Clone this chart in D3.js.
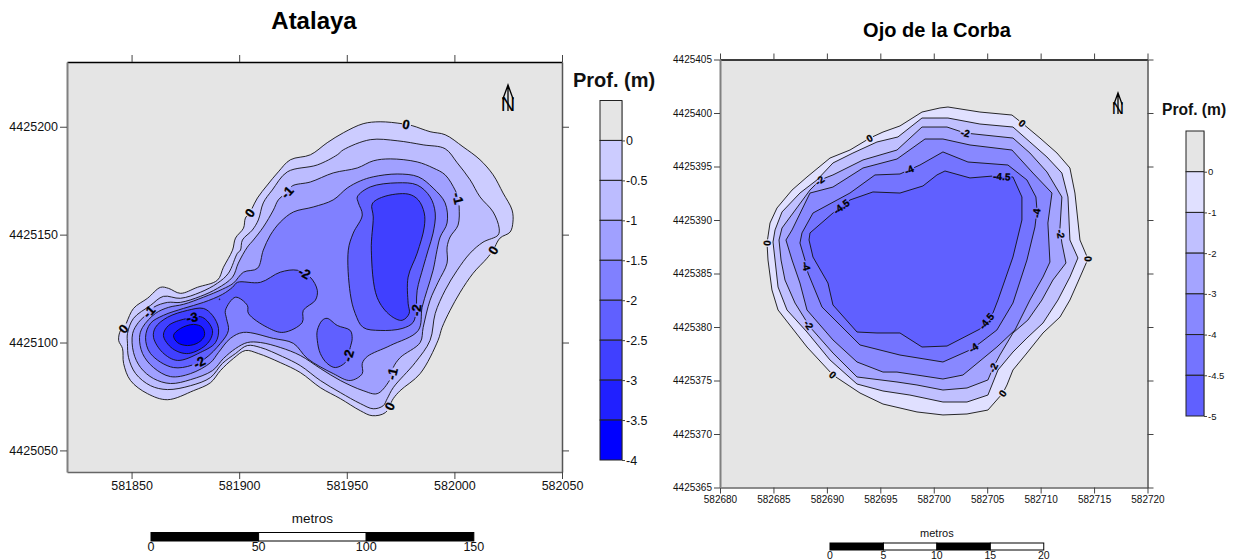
<!DOCTYPE html>
<html>
<head>
<meta charset="utf-8">
<title>Atalaya / Ojo de la Corba</title>
<script src="https://cdnjs.cloudflare.com/ajax/libs/d3/7.8.5/d3.min.js"></script>
<style>
	html, body { margin: 0; padding: 0; background: #fff; }
	svg { display: block; font-family: "Liberation Sans", Arial, sans-serif; }
</style>
</head>
<body>
<svg id="chart" width="1241" height="560"></svg>
<script>
'use strict';

// Atalaya: rings are [east, north] in metres from the two origins below
var ATALAYA_EAST0 = 581800;
var ATALAYA_NORTH0 = 4425000;
var aAtalayaXTicks = [581850, 581900, 581950, 582000, 582050];
var aAtalayaYTicks = [4425050, 4425100, 4425150, 4425200];
var aAtalayaLevels = [0, -0.5, -1, -1.5, -2, -2.5, -3, -3.5, -4];
var aAtalayaBands = ['#ccccff', '#bcbcff', '#a0a0ff', '#8080ff', '#6060ff', '#4040ff', '#2020ff', '#0000ff'];
var aAtalayaScaleTicks = [0, 50, 100, 150];

var aAtalaya0 = [[50.9,115.8],[57.4,120.5],[63.5,125.6],[67.2,125.1],[72.7,122.8],[80.6,125.6],[89.9,128.9],[92.7,134.9],[96.9,142.8],[98.3,148.4],[102,153],[102.9,157.7],[104.8,160],[108.5,167],[113.1,173],[118.2,179.1],[123.8,184.7],[133.1,187],[140.9,192.6],[148.4,197.2],[157.6,201.4],[165.5,202.3],[175.7,201.4],[180.4,200.5],[188.7,197.7],[195.7,196.3],[204,190.7],[211.9,184.7],[218,177.7],[222.6,169.3],[226.8,161.4],[227.2,155.8],[225.9,151.2],[221.2,148.4],[218,142.8],[215.2,139.1],[208.7,132.1],[202.7,123.3],[198,114.9],[194.3,107],[192.4,101],[184.1,85.6],[174.8,77.7],[171.6,74],[167.9,67.5],[161.8,66.1],[156.3,68.4],[147,74],[137.7,79.1],[128.4,86.1],[119.1,90.7],[108.9,94.9],[102.9,96.3],[97.3,92.6],[91.3,87],[86.7,81.4],[78.8,77.7],[66.7,73.5],[57.4,76.3],[49.5,82.4],[46.3,90.3],[45.8,97.2],[44,101],[44.9,105.6],[46.3,106.5]];
var aAtalayaM05 = [[48.1,104.2],[50.9,111.2],[58.8,117.2],[64.8,121.4],[72.7,120.5],[82,123.3],[89.9,127.5],[95,132.1],[99.2,141.4],[100.6,142.8],[101.5,147.5],[106.1,152.1],[108.9,156.8],[111.2,164.7],[115.4,170.7],[122.4,179.1],[136.3,182.3],[145.6,187],[148.4,189.3],[160.9,194],[173.4,193.5],[185.5,191.6],[195.7,189.8],[201.3,183.3],[207.3,175.4],[211.9,167.5],[218,160.5],[220.8,153],[220.3,149.8],[213.3,146.5],[207.3,141.4],[201.3,133.5],[195.7,124.2],[191.1,113.5],[188.7,101],[181.8,90.7],[171.6,79.1],[168.8,74],[166.9,70.7],[162.3,69.3],[156.3,71.7],[147,76.8],[137.7,82.4],[128.4,89.3],[120.1,93.5],[109.9,97.7],[103.8,98.6],[98.3,94.9],[92.2,90.3],[86.7,83.8],[77.4,80],[66.7,78.2],[58.8,80],[51.9,85.6],[48.6,93],[48.1,99.6]];
var aAtalayaM1 = [[50.5,104.2],[53.2,109.3],[56.5,112.6],[60.2,116.3],[66.7,118.6],[72.7,118.6],[82,121.4],[89.9,125.1],[96.9,130.3],[99.6,136.8],[103.8,144.2],[106.6,147.5],[111.2,153.5],[115.9,161.4],[118.2,166.1],[122.4,169.8],[124.7,172.6],[133.1,174.4],[143.7,178.6],[154.9,180.9],[162.3,184.2],[170.2,185.1],[182.7,183.7],[190.1,180.9],[195.7,177.7],[200.3,170.7],[201.7,167],[202.2,162.8],[201.7,154.4],[198,148.9],[196.6,144.2],[196.6,136.8],[192.4,127.9],[188.7,119.6],[185.5,107],[184.1,100],[174.8,93],[171.6,88.4],[171.1,85.6],[169.2,81.4],[164.1,76.3],[157.6,77.7],[147,82.4],[137.7,88],[128.4,94],[119.1,97.7],[109.9,100],[103.8,100],[98.3,97.2],[92.7,92.6],[87.6,87],[77.4,82.8],[68.1,81],[60.2,83.3],[54.2,88.4],[50.9,95.4]];
var aAtalayaM15 = [[53.7,102.4],[55.1,107],[61.1,113.5],[67.2,116.3],[74.1,117.7],[83.4,121],[92.2,124.7],[97.3,127.5],[102,132.6],[108.5,134.4],[111.2,142.8],[114.5,149.8],[119.1,155.8],[125.2,160.5],[134.4,162.8],[143.7,166.1],[150.2,171.6],[156.3,174.9],[162.3,176.8],[173.4,178.1],[183.2,176.8],[190.1,171.6],[195.7,164.7],[196.6,155.4],[193.4,148.9],[192,143.2],[190.1,133.5],[187.3,124.2],[185,116.3],[183.2,105.6],[170.2,98.6],[159.5,93.5],[157.2,90.3],[157.2,85.6],[151.6,82.4],[143.7,85.6],[131.7,92.6],[125.2,99.6],[115.9,101.9],[102,104.7],[95.9,101.9],[90.4,95.4],[86.7,90.7],[77.4,85.6],[68.1,84.2],[60.2,88.4],[55.1,94.9]];
var aAtalayaM2West = [[56.5,102.4],[58.8,108.9],[64.8,112.6],[74.1,115.8],[83.4,118.6],[92.2,122.3],[96.9,125.6],[99.2,127.9],[109.9,127.9],[119.1,132.6],[127,133.5],[133,130.3],[136.3,124.2],[135.4,119.6],[129.8,114.9],[129.3,109.3],[120.5,104.7],[113.1,107],[104.3,113.5],[103.8,117.2],[98.3,121],[93.6,114.9],[94.1,111.2],[95,105.6],[91.3,99.6],[82,91.2],[69.5,88.4],[58.8,94.9]];
var aAtalayaM2South = [[136.3,105.6],[138.6,110.3],[140.9,111.2],[145.6,107.9],[151.6,105.6],[152.5,101.9],[151.6,97.7],[150.7,94],[149.3,90.7],[144.7,88.4],[140.9,90.3],[137.7,94.9],[136.3,101]];
var aAtalayaM2East = [[154.9,167.5],[160.9,172.1],[173.4,174],[182.7,173],[188.7,167.5],[191.1,160],[190.1,150.7],[187.8,142.8],[185.5,134.9],[182.7,124.2],[182.2,114.9],[180.8,109.3],[175.7,106.5],[165.5,105.6],[157.6,107],[153.9,113.5],[151.6,122.8],[150.7,142.8],[153,150.7],[157.2,159.1],[155.4,164.7]];
var aAtalayaM2Dot = [[90.6,120],[91,120.2],[90.9,119.8]];
var aAtalayaM25West = [[60.2,102.4],[61.1,107],[66.7,111.7],[76,114.9],[83.4,115.8],[87.6,112.6],[90.4,106.5],[89,100],[82,95.4],[71.3,91.7],[64.4,95.4]];
var aAtalayaM25East = [[161.8,164.2],[166.9,167.5],[178.5,168.8],[183.2,166.1],[186,160],[186,153.5],[182.7,141.4],[178.5,130.3],[178.5,118.2],[179,113.5],[175.7,110.3],[170.2,112.6],[164.1,120.9],[161.4,142.8],[162.3,158.2]];
var aAtalayaM3 = [[64.8,103.3],[67.2,107.9],[76,111.2],[82.9,111.7],[87.6,105.6],[85.3,99.6],[76.4,94.9],[69,97.2]];
var aAtalayaM35 = [[69.5,103.3],[72.7,106.5],[78.8,108.4],[82.9,107],[83.9,103.3],[81.1,100],[76,98.6],[71.3,100]];

// [level, east, north]
var aAtalayaLabels = [[0,46.3,106.5],[0,104.8,160],[0,177.6,200.9],[0,218,142.8],[0,169.7,70.7],[-1,58.4,114],[-1,122.4,169.8],[-1,201.7,167],[-1,171.1,85.6],[-2,81.6,90.7],[-2,129.8,131.6],[-2,150.2,94],[-2,182.2,114.9],[-3,78.3,111.2]];

// Ojo de la Corba
var CORBA_EAST0 = 582680;
var CORBA_NORTH0 = 4425365;
var aCorbaXTicks = [582680, 582685, 582690, 582695, 582700, 582705, 582710, 582715, 582720];
var aCorbaYTicks = [4425365, 4425370, 4425375, 4425380, 4425385, 4425390, 4425395, 4425400, 4425405];
var aCorbaLevels = [0, -1, -2, -3, -4, -4.5, -5];
var aCorbaBands = ['#e0e0ff', '#c0c0ff', '#a4a4ff', '#8888ff', '#7474ff', '#6060ff'];
var aCorbaScaleTicks = [0, 5, 10, 15, 20];

var aCorba0 = [[4.68,24.72],[5.33,26.12],[6.74,27.8],[8.14,29.02],[10.29,30.79],[12.16,31.54],[14.03,32.66],[15.25,33.22],[16.84,33.79],[18.9,35.09],[20.58,35.47],[21.33,35.56],[24.32,35.09],[27.32,34.81],[28.25,34.07],[29.94,32.66],[31.53,31.26],[32.74,29.86],[33.21,27.52],[33.68,23.13],[34.43,21.36],[33.49,19.21],[32.74,17.52],[31.81,15.93],[30.22,14.44],[28.72,12.57],[27.41,10.98],[26.85,9.58],[26.47,8.83],[25.07,7.24],[23.11,6.87],[20.86,6.78],[18.43,7.06],[15.25,7.8],[13.1,8.83],[10.57,10.51],[8.14,13.13],[5.43,16.59],[4.86,18.46],[4.49,21.26],[4.4,22.85]];
var aCorbaM1 = [[4.96,22.94],[5.15,24.07],[5.8,25.75],[7.48,27.52],[9.07,28.74],[10.57,30.33],[12.44,31.26],[14.69,32.29],[16.65,32.76],[18.9,34.53],[21.33,34.53],[24.32,33.97],[27.41,33.69],[29,32.29],[30.59,30.89],[31.99,29.39],[32.56,27.15],[32.74,23.13],[33.49,21.45],[32.74,19.67],[31.62,17.52],[30.22,15.37],[28.72,13.97],[27.41,12.66],[26.01,10.98],[25.07,8.64],[23.11,7.99],[20.86,7.99],[17.77,8.64],[15.25,9.02],[12.82,9.67],[10.29,11.92],[8.14,14.53],[6.27,16.59],[5.43,18.74],[5.15,21.26]];
var aCorbaM2 = [[5.52,23.13],[5.8,24.25],[8.42,27.8],[9.36,28.74],[10.57,29.21],[13.38,30.61],[16.56,31.54],[18.9,33.69],[21.24,33.69],[22.92,33.13],[27.41,32.66],[29,31.26],[30.59,29.49],[31.99,27.15],[31.81,24.25],[31.99,22.85],[32.37,20.98],[31.15,19.39],[30.12,17.52],[28.81,15.65],[27.41,14.44],[26.19,12.38],[25.54,11.17],[25.07,10.05],[23.11,9.3],[20.86,9.11],[18.43,9.58],[16.56,9.86],[12.82,10.33],[10.57,12.57],[8.42,15],[7.02,17.24],[6.08,19.39],[5.71,21.26]];
var aCorbaM3 = [[6.17,23.13],[6.74,24.07],[8.42,27.52],[10.57,28.08],[13.38,29.86],[16.56,30.7],[19.18,32.57],[20.86,32.57],[23.39,32.01],[27.32,31.54],[29.28,29.39],[31.06,27.52],[30.68,24.72],[30.87,21.07],[30.22,19.67],[29,17.52],[27.6,14.72],[25.91,13.13],[22.73,10.51],[20.86,10.14],[18.43,10.51],[16.56,10.79],[15.25,10.79],[12.82,11.73],[10.57,13.79],[8.14,16.59],[7.48,19.11],[6.74,21.26]];
var aCorbaM4 = [[7.48,22.85],[7.67,23.79],[8.7,25.65],[12.16,27.52],[14.5,29.21],[16.84,29.3],[18.71,30.14],[20.86,31.36],[23.2,30.42],[26.94,30.14],[28.72,28.74],[29.56,27.15],[29.66,25.93],[29.47,24.35],[28.72,21.26],[27.41,17.24],[25.91,14.72],[24.32,13.5],[23.39,12.85],[20.86,11.73],[16.84,12.38],[13.1,13.32],[9.54,16.87],[8.23,20.05],[7.95,21.26]];
var aCorbaM45 = [[8.33,23.13],[8.42,23.79],[10.57,25.65],[12.16,26.87],[14.31,27.62],[16.84,27.52],[18.99,28.18],[20.3,29.21],[21.05,29.58],[23.39,28.93],[25.54,29.11],[27.41,29.02],[28.25,27.15],[28.25,25],[27.41,21.54],[26.01,17.52],[25.54,16.31],[24.32,14.81],[21.24,13.22],[18.9,13.13],[16.84,14.44],[14.69,14.44],[12.82,14.53],[10.57,17.06],[10.1,19.11],[8.7,21.54]];

var aCorbaLabels = [[0,14.03,32.66],[0,4.4,22.85],[0,28.25,34.07],[0,34.43,21.36],[0,26.47,8.83],[0,10.57,10.51],[-2,9.36,28.65],[-2,22.92,33.13],[-2,31.81,23.69],[-2,25.54,11.17],[-2,8.42,15.28],[-4,17.68,29.77],[-4,29.56,25.65],[-4,23.67,13.04],[-4,8.14,20.7],[-4.5,11.41,26.22],[-4.5,26.38,29.02],[-4.5,24.98,15.47]];

function D3_ContourMap(sSvg, aProps)
{
	var rFrame = aProps['frame'];
	var aXDomain = aProps['xdomain'];
	var aYDomain = aProps['ydomain'];
	var nEast0 = aProps['east0'];
	var nNorth0 = aProps['north0'];

	var scaleX = d3.scaleLinear().domain(aXDomain).range([rFrame.left, rFrame.right]);
	var scaleY = d3.scaleLinear().domain(aYDomain).range([rFrame.bottom, rFrame.top]);

	sSvg.append('rect')
		.attr('x', rFrame.left)
		.attr('y', rFrame.top)
		.attr('width', rFrame.right - rFrame.left)
		.attr('height', rFrame.bottom - rFrame.top)
		.attr('fill', '#e5e5e5');

	var fnLine = d3.line()
		.x(function(p) { return scaleX(nEast0 + p[0]); })
		.y(function(p) { return scaleY(nNorth0 + p[1]); })
		.curve(aProps['curve']);

	var fnBand = d3.scaleOrdinal().domain(aProps['levels']).range(aProps['bands']);

	// fills first, outer to inner; the outlines go on top so they can get gaps for the labels
	var sRings = sSvg.append('g');
	sRings.selectAll('path')
		.data(aProps['rings'])
		.enter()
			.append('path')
			.attr('d', function(r) { return fnLine(r.points); })
			.attr('fill', function(r) { return fnBand(r.level); })
			.attr('stroke', 'none');

	var sOutlines = sSvg.append('g').selectAll('path')
		.data(aProps['rings'])
		.enter()
			.append('path')
			.attr('d', function(r) { return fnLine(r.points); })
			.attr('fill', 'none')
			.attr('stroke', '#111')
			.attr('stroke-width', aProps['linewidth']);

	var aOutlineInfo = [];
	sOutlines.each(function(r)
	{
		var aSamples = [];
		var nTotal = this.getTotalLength();
		for (var nLen = 0; nLen <= nTotal; nLen += 1)
		{
			var pt = this.getPointAtLength(nLen);
			aSamples.push({len: nLen, x: pt.x, y: pt.y});
		}
		aOutlineInfo.push({node: this, level: r.level, total: nTotal, samples: aSamples, gaps: []});
	});

	var sLabels = sSvg.append('g');
	aProps['labels'].forEach(function(label)
	{
		var nLx = scaleX(nEast0 + label[1]);
		var nLy = scaleY(nNorth0 + label[2]);
		var oBest = null;
		var nBest = Infinity;
		aOutlineInfo.forEach(function(info)
		{
			if (info.level != label[0]) { return; }
			info.samples.forEach(function(s)
			{
				var d2 = (s.x-nLx)*(s.x-nLx) + (s.y-nLy)*(s.y-nLy);
				if (d2 < nBest) { nBest = d2; oBest = {info: info, sample: s}; }
			});
		});
		if (oBest == null)
		{
			console.error('no ring for label level '+label[0]);
			return;
		}

		var info = oBest.info;
		var nAt = oBest.sample.len;
		var p0 = info.node.getPointAtLength(Math.max(0, nAt-5));
		var p1 = info.node.getPointAtLength(Math.min(info.total, nAt+5));
		var nAngle = Math.atan2(p1.y-p0.y, p1.x-p0.x)*180/Math.PI;
		if (nAngle > 90) { nAngle -= 180; }
		if (nAngle < -90) { nAngle += 180; }

		var sText = sLabels.append('text')
			.attr('transform', 'translate(' + oBest.sample.x + ',' + oBest.sample.y + ') rotate(' + nAngle + ')')
			.attr('text-anchor', 'middle')
			.attr('dy', '.36em')
			.attr('font-size', aProps['labelsize'])
			.attr('font-weight', 'bold')
			.attr('fill', '#000')
			.attr('stroke', '#000')
			.attr('stroke-width', 0.3)
			.text(String(label[0]));

		var nHalf = sText.node().getComputedTextLength()/2 + 1;
		info.gaps.push([Math.max(0, nAt-nHalf), Math.min(info.total, nAt+nHalf)]);
	});

	aOutlineInfo.forEach(function(info)
	{
		if (info.gaps.length == 0) { return; }
		info.gaps.sort(function(a, b) { return a[0]-b[0]; });
		var aDash = [];
		var nPos = 0;
		info.gaps.forEach(function(g)
		{
			aDash.push(g[0]-nPos, g[1]-g[0]);
			nPos = g[1];
		});
		aDash.push(info.total-nPos, 0);
		d3.select(info.node).attr('stroke-dasharray', aDash.join(' '));
	});

	// frame with ticks pointing outward on all four sides
	var fnFormat = d3.format('d');
	var nTick = aProps['ticksize'];
	var nFont = aProps['ticksizefont'];

	function StyleAxis(sAxis, strColor, nWidth)
	{
		sAxis.attr('font-family', null).attr('font-size', nFont);
		sAxis.select('.domain').attr('stroke', strColor).attr('stroke-width', nWidth);
		sAxis.selectAll('.tick line').attr('stroke', '#444').attr('stroke-width', 1);
		sAxis.selectAll('.tick text').attr('fill', '#111');
	}

	var sTop = sSvg.append('g')
		.attr('transform', 'translate(0,' + rFrame.top + ')')
		.call(d3.axisTop(scaleX).tickValues(aProps['xticks']).tickSize(nTick).tickSizeOuter(0).tickFormat(''));
	StyleAxis(sTop, '#000', 1.5);

	var sRight = sSvg.append('g')
		.attr('transform', 'translate(' + rFrame.right + ',0)')
		.call(d3.axisRight(scaleY).tickValues(aProps['yticks']).tickSize(nTick).tickSizeOuter(0).tickFormat(''));
	StyleAxis(sRight, '#555', 1.5);

	var sBottom = sSvg.append('g')
		.attr('transform', 'translate(0,' + rFrame.bottom + ')')
		.call(d3.axisBottom(scaleX).tickValues(aProps['xticks']).tickSize(nTick).tickSizeOuter(0).tickPadding(aProps['xpadding']).tickFormat(fnFormat));
	StyleAxis(sBottom, '#666', 1.5);

	var sLeft = sSvg.append('g')
		.attr('transform', 'translate(' + rFrame.left + ',0)')
		.call(d3.axisLeft(scaleY).tickValues(aProps['yticks']).tickSize(nTick).tickSizeOuter(0).tickPadding(2).tickFormat(fnFormat));
	StyleAxis(sLeft, '#808080', 2);

	// title
	sSvg.append('text')
		.attr('x', aProps['titlex'])
		.attr('y', aProps['titley'])
		.attr('text-anchor', 'middle')
		.attr('font-size', aProps['titlesize'])
		.attr('font-weight', 'bold')
		.text(aProps['title']);

	// north arrow
	var rNorth = aProps['north'];
	var sNorth = sSvg.append('g').attr('transform', 'translate(' + rNorth.x + ',' + rNorth.y + ')');
	sNorth.append('path')
		.attr('d', 'M0,' + rNorth.size + 'V0M' + (-rNorth.size*0.2) + ',' + (rNorth.size*0.55) + 'L0,0L' + (rNorth.size*0.2) + ',' + (rNorth.size*0.55))
		.attr('fill', 'none')
		.attr('stroke', '#000')
		.attr('stroke-width', 1.3);
	sNorth.append('text')
		.attr('x', 0)
		.attr('y', rNorth.size)
		.attr('text-anchor', 'middle')
		.attr('font-size', rNorth.font)
		.text('N');

	// scale bar, uses the map's own metres per pixel
	var rBar = aProps['bar'];
	var aBarTicks = aProps['barticks'];
	var scaleBar = d3.scaleLinear()
		.domain([0, aBarTicks[aBarTicks.length-1]])
		.range([rBar.x, rBar.x + scaleX(aXDomain[0] + aBarTicks[aBarTicks.length-1]) - scaleX(aXDomain[0])]);

	sSvg.append('g').selectAll('rect')
		.data(d3.pairs(aBarTicks))
		.enter()
			.append('rect')
			.attr('x', function(p) { return scaleBar(p[0]); })
			.attr('y', rBar.y)
			.attr('width', function(p) { return scaleBar(p[1]) - scaleBar(p[0]); })
			.attr('height', rBar.height)
			.attr('fill', function(p, i) { return i%2 == 0 ? '#000' : '#fff'; })
			.attr('stroke', '#000')
			.attr('stroke-width', 1);

	sSvg.append('g').selectAll('text')
		.data(aBarTicks)
		.enter()
			.append('text')
			.attr('x', function(d) { return scaleBar(d); })
			.attr('y', rBar.labely)
			.attr('text-anchor', 'middle')
			.attr('font-size', rBar.font)
			.attr('fill', '#111')
			.text(function(d) { return d; });

	sSvg.append('text')
		.attr('x', (scaleBar.range()[0] + scaleBar.range()[1])/2)
		.attr('y', rBar.titley)
		.attr('text-anchor', 'middle')
		.attr('font-size', rBar.titlefont)
		.attr('fill', '#111')
		.text('metros');

	// legend: equal steps whatever the level, so a point scale, with the grey cell above 0
	var rLegend = aProps['legend'];
	var aLevels = aProps['levels'];
	var aSlots = ['above'].concat(aLevels);
	var scaleSlot = d3.scalePoint().domain(aSlots).range([rLegend.top, rLegend.bottom]);
	var aCellColors = ['#e5e5e5'].concat(aProps['bands']);

	sSvg.append('g').selectAll('rect')
		.data(d3.pairs(aSlots))
		.enter()
			.append('rect')
			.attr('x', rLegend.x)
			.attr('y', function(p) { return scaleSlot(p[0]); })
			.attr('width', rLegend.width)
			.attr('height', function(p) { return scaleSlot(p[1]) - scaleSlot(p[0]); })
			.attr('fill', function(p, i) { return aCellColors[i]; })
			.attr('stroke', '#222')
			.attr('stroke-width', 1);

	var sLegendAxis = sSvg.append('g')
		.attr('transform', 'translate(' + (rLegend.x + rLegend.width) + ',0)')
		.call(d3.axisRight(scaleSlot).tickValues(aLevels).tickSize(3).tickPadding(1).tickSizeOuter(0).tickFormat(function(d) { return String(d); }));
	sLegendAxis.attr('font-family', null).attr('font-size', rLegend.font);
	sLegendAxis.select('.domain').attr('stroke', '#777').attr('stroke-width', 1);
	sLegendAxis.selectAll('.tick line').attr('stroke', '#444');
	sLegendAxis.selectAll('.tick text').attr('fill', '#111');

	sSvg.append('text')
		.attr('x', rLegend.titlex)
		.attr('y', rLegend.titley)
		.attr('font-size', rLegend.titlefont)
		.attr('font-weight', 'bold')
		.attr('fill', '#111')
		.text('Prof. (m)');
}

var sSvg = d3.select('#chart');

D3_ContourMap(sSvg, {
	title: 'Atalaya', titlex: 314, titley: 29, titlesize: 24,
	frame: {left: 67, top: 62, right: 562, bottom: 472},
	xdomain: [581820, 582050], ydomain: [4425040, 4425230],
	east0: ATALAYA_EAST0, north0: ATALAYA_NORTH0,
	xticks: aAtalayaXTicks, yticks: aAtalayaYTicks,
	ticksize: 7, ticksizefont: 12.5, xpadding: 2,
	levels: aAtalayaLevels, bands: aAtalayaBands,
	curve: d3.curveCatmullRomClosed, linewidth: 0.9,
	labelsize: 13,
	rings: [
		{level: 0, points: aAtalaya0},
		{level: -0.5, points: aAtalayaM05},
		{level: -1, points: aAtalayaM1},
		{level: -1.5, points: aAtalayaM15},
		{level: -2, points: aAtalayaM2West},
		{level: -2, points: aAtalayaM2South},
		{level: -2, points: aAtalayaM2East},
		{level: -2, points: aAtalayaM2Dot},
		{level: -2.5, points: aAtalayaM25West},
		{level: -2.5, points: aAtalayaM25East},
		{level: -3, points: aAtalayaM3},
		{level: -3.5, points: aAtalayaM35}
	],
	labels: aAtalayaLabels,
	north: {x: 508, y: 85, size: 26, font: 20},
	bar: {x: 151, y: 532.5, height: 8.5, labely: 551, font: 12.5, titley: 523, titlefont: 13.5},
	barticks: aAtalayaScaleTicks,
	legend: {x: 600, width: 22, top: 100.5, bottom: 460, font: 12.5, titlex: 573, titley: 87, titlefont: 20}
});

D3_ContourMap(sSvg, {
	title: 'Ojo de la Corba', titlex: 937, titley: 37, titlesize: 20,
	frame: {left: 720, top: 59.5, right: 1147.5, bottom: 487.5},
	xdomain: [582680, 582720], ydomain: [4425365, 4425405],
	east0: CORBA_EAST0, north0: CORBA_NORTH0,
	xticks: aCorbaXTicks, yticks: aCorbaYTicks,
	ticksize: 6, ticksizefont: 10, xpadding: 2,
	levels: aCorbaLevels, bands: aCorbaBands,
	curve: d3.curveLinearClosed, linewidth: 0.9,
	labelsize: 10,
	rings: [
		{level: 0, points: aCorba0},
		{level: -1, points: aCorbaM1},
		{level: -2, points: aCorbaM2},
		{level: -3, points: aCorbaM3},
		{level: -4, points: aCorbaM4},
		{level: -4.5, points: aCorbaM45}
	],
	labels: aCorbaLabels,
	north: {x: 1118, y: 93, size: 21, font: 17},
	bar: {x: 830, y: 543, height: 7, labely: 559, font: 10.5, titley: 537, titlefont: 11},
	barticks: aCorbaScaleTicks,
	legend: {x: 1186, width: 18, top: 131, bottom: 416, font: 9.5, titlex: 1162, titley: 115, titlefont: 15.6}
});
</script>
</body>
</html>
